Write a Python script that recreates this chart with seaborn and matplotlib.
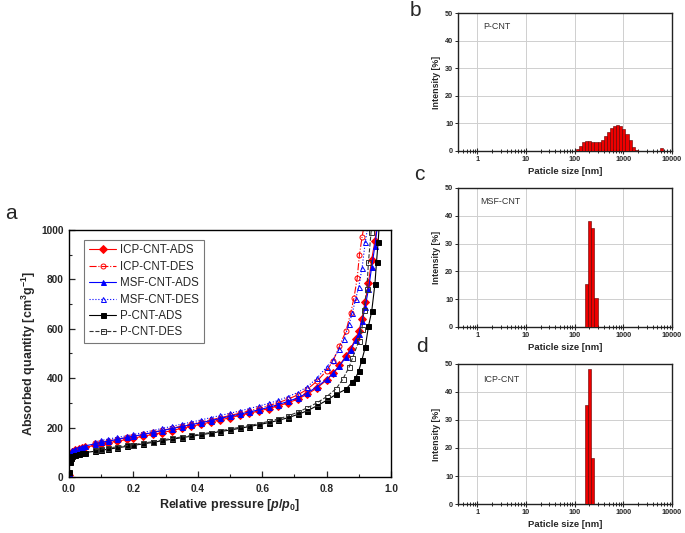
import numpy as np
import pandas as pd
import matplotlib
matplotlib.use("Agg")
import matplotlib.pyplot as plt
from matplotlib.ticker import MultipleLocator, LogLocator, NullFormatter, FixedLocator
import seaborn as sns

sns.set_theme(style="ticks")
plt.rcParams['font.family'] = ['Liberation Sans', 'DejaVu Sans']
plt.rcParams['mathtext.fontset'] = 'custom'
plt.rcParams['mathtext.rm'] = 'Liberation Sans'
plt.rcParams['mathtext.it'] = 'Liberation Sans:italic:bold'
plt.rcParams['mathtext.bf'] = 'Liberation Sans:bold'

# ---------------- Panel a: N2 isotherms ----------------
icp_ads_p = [0.0005, 0.002, 0.005, 0.01, 0.02, 0.03, 0.04, 0.05, 0.08, 0.1, 0.12, 0.15, 0.18, 0.2, 0.23,
             0.26, 0.29, 0.32, 0.35, 0.38, 0.41, 0.44, 0.47, 0.5, 0.53, 0.56, 0.59, 0.62, 0.65, 0.68, 0.71,
             0.74, 0.77, 0.8, 0.82, 0.84, 0.86, 0.875, 0.89, 0.9, 0.91, 0.92, 0.93, 0.94, 0.95, 0.96]
icp_ads_q = [10, 70, 90, 100, 108, 113, 117, 120, 128, 133, 138, 145, 152, 157, 165,
             172, 180, 188, 197, 205, 214, 222, 231, 240, 249, 258, 267, 277, 288, 300, 315,
             335, 360, 392, 420, 452, 490, 520, 560, 590, 640, 710, 785, 880, 955, 1060]

icp_des_p = [0.08, 0.1, 0.12, 0.15, 0.18, 0.2, 0.23, 0.26, 0.29, 0.32, 0.35, 0.38, 0.41, 0.44, 0.47,
             0.5, 0.53, 0.56, 0.59, 0.62, 0.65, 0.68, 0.71, 0.74, 0.77, 0.8, 0.82, 0.84, 0.86, 0.875,
             0.885, 0.895, 0.902, 0.91, 0.918]
icp_des_q = [136, 141, 146, 153, 160, 165, 173, 181, 189, 197, 206, 214, 223, 231, 240,
             249, 258, 268, 278, 289, 301, 315, 332, 355, 388, 430, 470, 530, 590, 665,
             725, 805, 900, 970, 1030]

msf_ads_p = [0.0005, 0.002, 0.005, 0.01, 0.02, 0.03, 0.04, 0.05, 0.08, 0.1, 0.12, 0.15, 0.18, 0.2, 0.23,
             0.26, 0.29, 0.32, 0.35, 0.38, 0.41, 0.44, 0.47, 0.5, 0.53, 0.56, 0.59, 0.62, 0.65, 0.68, 0.71,
             0.74, 0.77, 0.8, 0.82, 0.84, 0.86, 0.875, 0.89, 0.9, 0.91, 0.92, 0.93, 0.94, 0.95, 0.96]
msf_ads_q = [15, 85, 100, 108, 115, 119, 123, 126, 134, 140, 145, 152, 160, 165, 172,
             180, 188, 196, 204, 212, 220, 228, 237, 246, 254, 263, 272, 282, 293, 306, 320,
             340, 365, 395, 420, 450, 485, 515, 555, 580, 630, 690, 760, 850, 935, 1040]

msf_des_p = [0.08, 0.1, 0.12, 0.15, 0.18, 0.2, 0.23, 0.26, 0.29, 0.32, 0.35, 0.38, 0.41, 0.44, 0.47,
             0.5, 0.53, 0.56, 0.59, 0.62, 0.65, 0.68, 0.71, 0.74, 0.77, 0.8, 0.82, 0.84, 0.855, 0.87,
             0.88, 0.89, 0.9, 0.91, 0.92, 0.93]
msf_des_q = [142, 148, 153, 160, 167, 172, 180, 188, 197, 205, 214, 222, 231, 240, 249,
             258, 267, 277, 287, 298, 310, 325, 342, 365, 400, 445, 475, 520, 560, 620,
             665, 720, 770, 845, 950, 1030]

pcnt_ads_p = [0.0005, 0.002, 0.005, 0.01, 0.02, 0.03, 0.04, 0.05, 0.08, 0.1, 0.12, 0.15, 0.18, 0.2, 0.23,
              0.26, 0.29, 0.32, 0.35, 0.38, 0.41, 0.44, 0.47, 0.5, 0.53, 0.56, 0.59, 0.62, 0.65, 0.68, 0.71,
              0.74, 0.77, 0.8, 0.83, 0.86, 0.88, 0.89, 0.9, 0.91, 0.92, 0.93, 0.94, 0.95, 0.955, 0.96, 0.965]
pcnt_ads_q = [20, 60, 75, 83, 89, 93, 96, 99, 104, 108, 112, 118, 124, 128, 134,
              140, 147, 153, 159, 165, 171, 177, 184, 190, 197, 204, 212, 220, 229, 240, 253,
              268, 288, 310, 335, 355, 385, 400, 430, 475, 525, 610, 670, 780, 870, 950, 1050]

pcnt_des_p = [0.08, 0.1, 0.12, 0.15, 0.18, 0.2, 0.23, 0.26, 0.29, 0.32, 0.35, 0.38, 0.41, 0.44, 0.47,
              0.5, 0.53, 0.56, 0.59, 0.62, 0.65, 0.68, 0.71, 0.74, 0.77, 0.8, 0.83, 0.85, 0.87, 0.88,
              0.9, 0.91, 0.915, 0.925, 0.93, 0.938, 0.945]
pcnt_des_q = [110, 113, 117, 122, 128, 131, 137, 143, 150, 156, 162, 168, 174, 180, 187,
              194, 201, 208, 216, 225, 235, 247, 262, 280, 300, 325, 358, 395, 445, 480,
              550, 600, 675, 760, 870, 990, 1060]

# ---------------- Panels b-d: DLS size distributions ----------------
size_ratio = 1.158  # Zetasizer size class spacing
pcnt_size = [105.7, 122.4, 141.8, 164.2, 190.1, 220.2, 255.0, 295.3, 342.0, 396.1,
             458.7, 531.2, 615.1, 712.4, 825.0, 955.4, 1106, 1281, 1484, 1718, 5560]
pcnt_int = [0.6, 1.9, 3.1, 3.6, 3.45, 3.2, 3.2, 3.4, 4.0, 5.4,
            6.9, 8.3, 9.2, 9.5, 9.0, 7.8, 6.0, 4.0, 1.6, 0.5, 1.0]
msf_size = [164.2, 190.1, 220.2, 255.0]
msf_int = [15.6, 38.3, 35.6, 10.5]
icp_size = [164.2, 190.1, 220.2]
icp_int = [35.4, 48.2, 16.4]

fig = plt.figure(figsize=(6.85, 5.33), dpi=100)
fig.patch.set_facecolor('white')

ax = fig.add_axes([0.1007, 0.1051, 0.4701, 0.4634])

series = [
    ("ICP-CNT-ADS", icp_ads_p, icp_ads_q, "red", "D", "red", "-"),
    ("ICP-CNT-DES", icp_des_p, icp_des_q, "red", "o", "none", "-."),
    ("MSF-CNT-ADS", msf_ads_p, msf_ads_q, "blue", "^", "blue", "-"),
    ("MSF-CNT-DES", msf_des_p, msf_des_q, "blue", "^", "none", ":"),
    ("P-CNT-ADS", pcnt_ads_p, pcnt_ads_q, "black", "s", "black", "-"),
    ("P-CNT-DES", pcnt_des_p, pcnt_des_q, "#333333", "s", "none", "--"),
]
for name, px, qy, col, mk, mfc, ls in series:
    df = pd.DataFrame({"p": px, "q": qy})
    sns.lineplot(data=df, x="p", y="q", ax=ax, color=col, marker=mk, markersize=3.6,
                 markerfacecolor=mfc, markeredgecolor=col, markeredgewidth=0.7,
                 linestyle=ls, linewidth=0.8, label=name, sort=False, estimator=None)

ax.set_xlim(0, 1.0)
ax.set_ylim(0, 1000)
ax.xaxis.set_major_locator(MultipleLocator(0.2))
ax.xaxis.set_minor_locator(MultipleLocator(0.1))
ax.yaxis.set_major_locator(MultipleLocator(200))
ax.yaxis.set_minor_locator(MultipleLocator(100))
ax.xaxis.set_major_formatter(matplotlib.ticker.FormatStrFormatter('%.1f'))
ax.tick_params(which='both', direction='in', top=False, right=False, labelsize=7.3)
ax.tick_params(axis='x', pad=5)
ax.tick_params(axis='y', pad=4)
ax.tick_params(which='major', length=4, width=0.9)
ax.tick_params(which='minor', length=2.5, width=0.8)
for lab in ax.get_xticklabels() + ax.get_yticklabels():
    lab.set_fontweight('bold')
for sp in ax.spines.values():
    sp.set_linewidth(1.0)
    sp.set_color('black')
ax.set_xlabel(r"Relative pressure [$\mathit{p}$/$\mathit{p}_\mathbf{0}$]", fontsize=9, fontweight='bold', labelpad=2)
ax.set_ylabel(r"Absorbed quantity [cm$\mathbf{^3}$g$\mathbf{^{-1}}$]", fontsize=9, fontweight='bold', labelpad=2)
leg = ax.legend(loc='upper left', bbox_to_anchor=(0.047, 0.96), borderaxespad=0, fontsize=8.3,
                frameon=True, fancybox=False, edgecolor='#555555', handlelength=2.4,
                handletextpad=0.35, labelspacing=0.38, borderpad=0.4)
leg.get_frame().set_linewidth(0.8)

# DLS panels
dls = [
    (0.7167, 0.2589, pcnt_size, pcnt_int, "P-CNT", 0.117, 0.905),
    (0.3865, 0.2608, msf_size, msf_int, "MSF-CNT", 0.103, 0.903),
    (0.0544, 0.2627, icp_size, icp_int, "ICP-CNT", 0.117, 0.886),
]
for bottom, height, sizes, ints, name, tx, ty in dls:
    bx = fig.add_axes([0.6686, bottom, 0.3124, height])
    widths = [s * size_ratio - s for s in sizes]
    bx.set_xscale('log')
    bx.bar(sizes, ints, width=widths, align='edge', color='#ee0000', edgecolor='#5a0000',
           linewidth=0.4, zorder=3)
    bx.set_xlim(0.4, 10000)
    bx.set_ylim(0, 50)
    bx.xaxis.set_major_locator(FixedLocator([1, 10, 100, 1000, 10000]))
    bx.set_xticklabels(['1', '10', '100', '1000', '10000'])
    bx.xaxis.set_minor_locator(LogLocator(base=10, subs=np.arange(2, 10), numticks=20))
    bx.xaxis.set_minor_formatter(NullFormatter())
    bx.yaxis.set_major_locator(MultipleLocator(10))
    bx.grid(True, which='major', color='#cfcfcf', linewidth=0.7, zorder=0)
    bx.set_axisbelow(True)
    bx.tick_params(axis='x', which='both', direction='inout', top=False, labelsize=5.2, pad=1.5)
    bx.tick_params(axis='x', which='major', length=4, width=0.8)
    bx.tick_params(axis='x', which='minor', length=3, width=0.7)
    bx.tick_params(axis='y', which='both', direction='out', right=False, length=2, width=0.7,
                   labelsize=5.2, pad=1.5)
    for lab in bx.get_xticklabels() + bx.get_yticklabels():
        lab.set_fontweight('bold')
    for sp in bx.spines.values():
        sp.set_linewidth(1.0)
        sp.set_color('#222222')
    bx.set_xlabel("Paticle size [nm]", fontsize=6.8, fontweight='bold', labelpad=3)
    bx.set_ylabel("Intensity [%]", fontsize=6.4, fontweight='bold', labelpad=3)
    bx.text(tx, ty, name, transform=bx.transAxes, fontsize=6.4, color='#333333', ha='left', va='center')

fig.text(0.007, 0.600, "a", fontsize=15, ha='left', va='center')
fig.text(0.598, 0.981, "b", fontsize=15, ha='left', va='center')
fig.text(0.604, 0.672, "c", fontsize=15, ha='left', va='center')
fig.text(0.607, 0.350, "d", fontsize=15, ha='left', va='center')

fig.savefig("out.png", dpi=100, facecolor='white')
